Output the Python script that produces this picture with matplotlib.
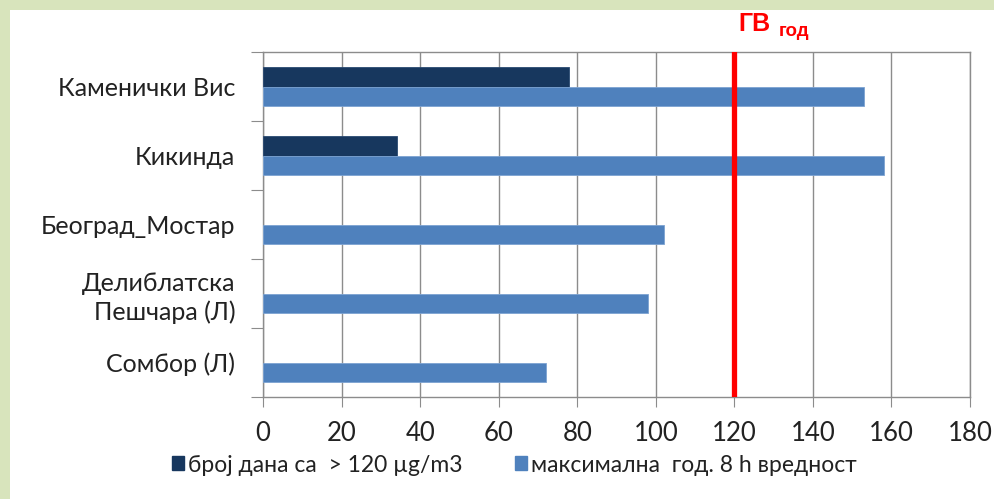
import matplotlib.pyplot as plt
import matplotlib.patches as mpatches
import numpy as np

stations = ['Каменички Вис', 'Кикинда', 'Београд_Мостар', 'Делиблатска\nПешчара (Л)', 'Сомбор (Л)']
days_over = [78, 34, 0, 0, 0]
max_8h = [153, 158, 102, 98, 72]
limit = 120

dark = '#17375E'
light = '#4F81BD'
grid_c = '#8C8C8C'

plt.rcParams['font.family'] = ['Lato', 'DejaVu Sans']

fig = plt.figure(figsize=(9.94, 4.99), dpi=100)
fig.patch.set_facecolor('white')
# green strip on left and top
for r in [(0, 0, 10 / 994, 1), (0, 1 - 10 / 499, 1, 10 / 499)]:
    fig.patches.append(mpatches.Rectangle(r[:2], r[2], r[3], transform=fig.transFigure,
                                          facecolor='#D8E4BC', edgecolor='none'))

ax = fig.add_axes([263 / 994, 1 - 397 / 499, (970 - 263) / 994, (397 - 52) / 499])
y = np.arange(len(stations))
h = 0.285
ax.barh(y - 0.14, days_over, height=h, color=dark, edgecolor='#2A4A72',
        linewidth=[0.6 if v > 0 else 0 for v in days_over], zorder=3)
ax.barh(y + 0.145, max_8h, height=h, color=light, edgecolor='#7DA3D2', linewidth=0.6, zorder=3)

ax.axvline(limit, color='#FF0000', linewidth=3.8, zorder=4)

ax.set_xlim(0, 180)
ax.set_ylim(len(stations) - 0.5, -0.5)
ax.set_xticks(np.arange(0, 181, 20))
ax.tick_params(axis='x', labelsize=18.5, length=7, color=grid_c, pad=10, labelcolor='#222222')
ax.xaxis.grid(True, color=grid_c, linewidth=1)
ax.set_axisbelow(True)

# boundaries as major ticks, names as minor ticks
ax.set_yticks(np.arange(-0.5, len(stations), 1))
ax.set_yticklabels([])
ax.tick_params(axis='y', which='major', length=9, color=grid_c)
ax.set_yticks(y, minor=True)
ax.set_yticklabels(stations, minor=True, ha='right', linespacing=1.25)
ax.tick_params(axis='y', which='minor', length=0, pad=20, labelsize=18, labelcolor='#222222')

for s in ax.spines.values():
    s.set_color(grid_c)
    s.set_linewidth(1)

fig.text(738 / 994, 1 - 24 / 499, 'ГВ', color='#FF0000', fontsize=18, fontweight='bold',
         family='Liberation Sans', va='center', ha='left')
fig.text(779 / 994, 1 - 31 / 499, 'год', color='#FF0000', fontsize=13.5, fontweight='bold',
         family='Liberation Sans', va='center', ha='left')

handles = [mpatches.Patch(color=dark), mpatches.Patch(color=light)]
fig.legend(handles, ['број дана са  > 120 µg/m3', 'максимална  год. 8 h вредност'],
           loc='center left', bbox_to_anchor=(151 / 994, 1 - 465 / 499), ncol=2, frameon=False,
           fontsize=16.5, handlelength=0.55, handleheight=0.55, handletextpad=0.15,
           columnspacing=2.3, labelcolor='#222222')

fig.savefig('out.png', dpi=100)
